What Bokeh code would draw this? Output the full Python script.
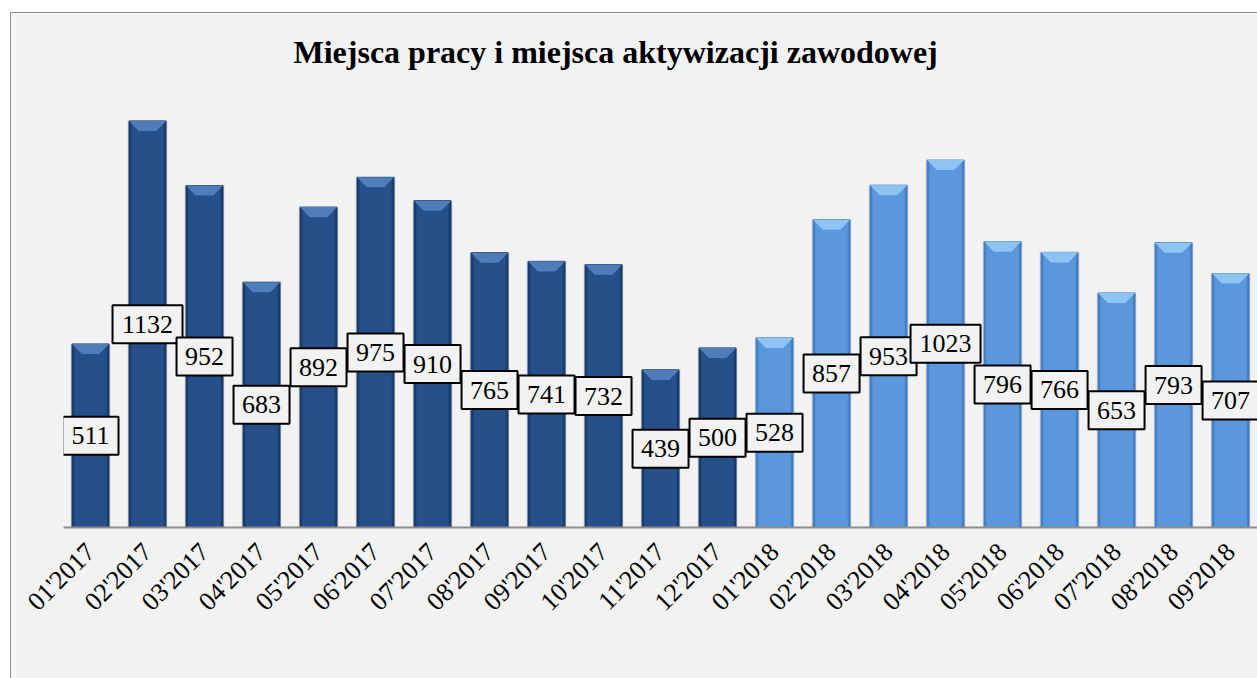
import math
from bokeh.plotting import figure
from bokeh.models import Range1d, FixedTicker, ColumnDataSource
from bokeh.core.properties import value
from bokeh.embed import file_html
from bokeh.resources import INLINE

# ---- data ----
months = ["01'2017", "02'2017", "03'2017", "04'2017", "05'2017", "06'2017",
          "07'2017", "08'2017", "09'2017", "10'2017", "11'2017", "12'2017",
          "01'2018", "02'2018", "03'2018", "04'2018", "05'2018", "06'2018",
          "07'2018", "08'2018", "09'2018"]
values_2017 = [511, 1132, 952, 683, 892, 975, 910, 765, 741, 732, 439, 500]
values_2018 = [528, 857, 953, 1023, 796, 766, 653, 793, 707]
title_text = "Miejsca pracy i miejsca aktywizacji zawodowej"

# ---- styling ----
BG = "#f2f2f2"
FONT = "Liberation Serif"
style = {
    2017: dict(main="#25508a", edge="#1b3d6b", cap="#4e7db9"),
    2018: dict(main="#5b97dc", edge="#477fc2", cap="#8ec4f4"),
}

values = values_2017 + values_2018
years = [2017] * len(values_2017) + [2018] * len(values_2018)
xs = list(range(len(values)))
BAR_W = 0.65

src = ColumnDataSource(dict(
    x=xs,
    v=values,
    mid=[v / 2 for v in values],
    lab=[str(v) for v in values],
    box_w=[14 * len(str(v)) + 14 for v in values],
    main=[style[y]["main"] for y in years],
    edge=[style[y]["edge"] for y in years],
))

p = figure(width=1247, height=666, output_backend="svg", toolbar_location=None,
           x_range=Range1d(-0.474, 20.49), y_range=Range1d(0, 1225),
           min_border_left=52, min_border_right=0, min_border_top=72,
           min_border_bottom=152)
p.styles = {"margin-left": "10px", "margin-top": "12px",
            "border-left": "1px solid #8a8a8a", "border-top": "1px solid #8a8a8a"}
p.background_fill_color = BG
p.border_fill_color = BG
p.outline_line_color = None
p.grid.visible = False
p.yaxis.visible = False

# title
p.title.text = title_text
p.title.text_font = FONT
p.title.text_font_size = "32px"
p.title.text_font_style = "bold"
p.title.text_color = "black"
p.title.align = "left"
p.title.offset = 230
p.title.standoff = 36

# soft shadow behind bars
p.vbar(x="x", top="v", bottom=0, width=BAR_W + 0.05, source=src,
       fill_color="#bfbfbf", fill_alpha=0.45, line_color=None)
# bars: darker edge, main body, lighter bevelled top
p.vbar(x="x", top="v", bottom=0, width=BAR_W, source=src,
       fill_color="edge", line_color="edge", line_width=1)
p.vbar(x="x", top="v", bottom=0, width=BAR_W - 0.08, source=src,
       fill_color="main", line_color=None)
inset = 0.17
depth = 28
cap_x, cap_y, cap_c = [], [], []
for x, v, y in zip(xs, values, years):
    l, r = x - BAR_W / 2, x + BAR_W / 2
    cap_x.append([l, r, r - inset, l + inset])
    cap_y.append([v, v, v - depth, v - depth])
    cap_c.append(style[y]["cap"])
p.patches(cap_x, cap_y, fill_color=cap_c, line_color=None)

# data labels
p.rect(x="x", y="mid", width="box_w", height=38, width_units="screen",
       height_units="screen", source=src, fill_color=BG, line_color="black",
       line_width=2)
p.text(x="x", y="mid", text="lab", source=src, text_font=value(FONT),
       text_font_size="26px", text_align="center", text_baseline="middle",
       text_color="black")

# x axis
ax = p.xaxis[0]
ax.ticker = FixedTicker(ticks=xs)
ax.major_label_overrides = {i: m for i, m in enumerate(months)}
ax.major_label_orientation = math.pi / 4
ax.major_label_text_font = FONT
ax.major_label_text_font_size = "26px"
ax.major_label_text_color = "black"
ax.major_tick_line_color = None
ax.minor_tick_line_color = None
ax.axis_line_color = "#8c8c8c"
ax.axis_line_width = 2
ax.major_label_standoff = 14

open("out.html", "w").write(file_html(p, INLINE))
